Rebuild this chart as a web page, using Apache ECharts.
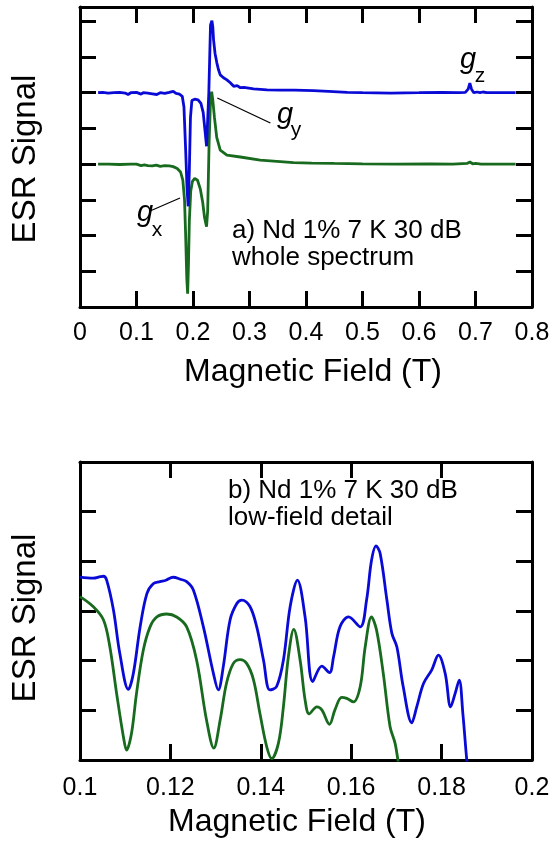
<!DOCTYPE html>
<html>
<head>
<meta charset="utf-8">
<script src="https://cdn.jsdelivr.net/npm/echarts@6/dist/echarts.min.js"></script>
<style>html,body{margin:0;padding:0;background:#fff;}#c{width:553px;height:843px;}</style>
</head>
<body>
<div id="c"></div>
<script>
// ---- Panel a) whole spectrum ----
const topBlueX = [0.032,0.040,0.050,0.060,0.070,0.080,0.085,0.090,0.100,0.108,0.112,0.120,0.128,0.136,0.142,0.150,0.158,0.165,0.170,0.176,0.181,0.184,0.187,0.1895,0.1915,0.1935,0.1955,0.198,0.203,0.209,0.214,0.218,0.2215,0.2240,0.2255,0.2280,0.2310,0.2335,0.2350,0.2364,0.2390,0.2423,0.2450,0.2482,0.2540,0.2600,0.2660,0.2720,0.2780,0.2840,0.2900,0.3073,0.3310,0.3550,0.3800,0.4130,0.4400,0.4730,0.5000,0.5500,0.6000,0.6400,0.6700,0.6820,0.6870,0.6900,0.6930,0.6970,0.7030,0.7080,0.7130,0.7200,0.7710];
const topBlueY = [6.00,6.01,5.99,6.00,6.01,5.99,5.95,6.00,6.01,5.96,6.00,5.99,5.97,5.95,6.00,5.98,6.01,6.04,5.98,5.96,5.90,5.60,4.40,3.30,2.82,3.80,5.30,5.78,5.82,5.80,5.70,5.45,4.90,4.50,4.48,6.00,7.90,8.02,7.85,7.48,7.10,6.83,6.65,6.50,6.42,6.36,6.28,6.18,6.20,6.14,6.15,6.11,6.08,6.07,6.07,6.06,6.04,6.01,6.00,5.99,6.00,6.01,6.00,6.01,6.10,6.27,6.10,6.00,6.02,6.00,6.02,6.00,6.00];
const topGreenX = [0.032,0.050,0.070,0.090,0.100,0.108,0.114,0.120,0.128,0.135,0.142,0.150,0.158,0.165,0.172,0.178,0.182,0.185,0.187,0.189,0.1905,0.1920,0.1935,0.1960,0.1990,0.2030,0.2080,0.2130,0.2170,0.2205,0.2240,0.2260,0.2285,0.2310,0.2330,0.2350,0.2380,0.2420,0.2482,0.2600,0.2837,0.3190,0.3780,0.4100,0.4500,0.5000,0.5600,0.6200,0.6600,0.6850,0.6900,0.6950,0.7000,0.7100,0.7710];
const topGreenY = [4.00,4.00,3.99,4.00,4.00,3.96,3.98,3.96,3.95,3.97,3.94,3.96,3.95,3.93,3.88,3.78,3.55,3.00,2.00,0.80,0.37,1.20,2.40,3.25,3.52,3.60,3.55,3.30,2.95,2.50,2.25,2.70,4.60,5.80,6.03,5.80,5.30,4.75,4.39,4.25,4.20,4.11,4.04,4.03,4.02,4.01,4.00,4.01,4.00,4.02,4.06,4.01,4.02,4.00,4.00];

// ---- Panel b) low-field detail ----
const lowBlueX = [0.1000,0.1029,0.1045,0.1052,0.1059,0.1074,0.1088,0.1107,0.1118,0.1133,0.1148,0.1162,0.1177,0.1190,0.1206,0.1222,0.1236,0.1251,0.1273,0.1295,0.1306,0.1317,0.1332,0.1347,0.1358,0.1376,0.1391,0.1406,0.1420,0.1435,0.1450,0.1465,0.1481,0.1498,0.1515,0.1535,0.1552,0.1561,0.1575,0.1594,0.1620,0.1634,0.1645,0.1655,0.1664,0.1679,0.1690,0.1701,0.1715,0.1734,0.1745,0.1760,0.1778,0.1793,0.1808,0.1820,0.1830,0.1839,0.1847,0.1856,0.1860];
const lowBlueY = [3.68,3.66,3.69,3.70,3.62,3.02,2.15,1.42,1.74,2.68,3.35,3.55,3.59,3.62,3.68,3.64,3.59,3.42,2.68,1.75,1.41,1.88,2.82,3.15,3.22,3.09,2.68,2.01,1.41,1.48,2.01,3.09,3.62,2.88,1.58,1.89,1.76,2.08,2.68,2.88,2.68,3.22,4.02,4.31,4.16,3.22,2.55,2.28,1.48,0.75,1.07,1.54,1.81,2.11,1.74,1.07,1.34,1.61,0.94,-0.03,-0.3];
const lowGreenX = [0.1000,0.1029,0.1052,0.1066,0.1081,0.1096,0.1103,0.1114,0.1125,0.1140,0.1155,0.1170,0.1192,0.1214,0.1236,0.1258,0.1280,0.1296,0.1310,0.1324,0.1339,0.1354,0.1369,0.1384,0.1398,0.1413,0.1424,0.1439,0.1450,0.1461,0.1473,0.1487,0.1498,0.1507,0.1524,0.1535,0.1552,0.1564,0.1579,0.1590,0.1605,0.1620,0.1631,0.1645,0.1656,0.1671,0.1686,0.1697,0.1704,0.1710];
const lowGreenY = [3.29,3.09,2.82,2.28,1.34,0.47,0.20,0.54,1.34,2.21,2.68,2.88,2.94,2.88,2.68,2.01,0.80,0.24,0.80,1.54,1.94,2.02,1.94,1.61,0.94,0.27,0.03,0.34,1.07,2.08,2.63,2.01,1.21,0.93,1.07,1.01,0.72,1.01,1.26,1.24,1.17,1.48,2.28,2.88,2.62,1.74,0.67,0.34,-0.03,-0.3];

const xTicksTop = {min:0, max:0.8, interval:0.1};
const xTicksLow = {min:0.1, max:0.2, interval:0.02};
const yTop = {min:0, max:8.4, interval:1};
const yLow = {min:0, max:6, interval:1};

const zip = (xs, ys) => xs.map((x, i) => [x, ys[i]]);
const FONT = 'Liberation Sans, Arial, sans-serif';
const BLUE = '#0a0ad6';
const GREEN = '#186a1e';

const tick = {show:true, inside:true, length:16, lineStyle:{color:'#000', width:3}};
const aline = {show:true, onZero:false, lineStyle:{color:'#000', width:3}};

function xAx(grid, pos, sc, labels, name, gap, margin, pad) {
  return {type:'value', gridIndex:grid, position:pos, min:sc.min, max:sc.max, interval:sc.interval,
    axisLine:aline, axisTick:tick, splitLine:{show:false},
    axisLabel:{show:labels, color:'#000', fontSize:25, fontFamily:FONT, margin:margin},
    name: name, nameLocation:'middle', nameGap:gap,
    nameTextStyle:{color:'#000', fontSize:32, fontFamily:FONT, padding:pad}};
}
function yAx(grid, pos, sc, name, pad) {
  return {type:'value', gridIndex:grid, position:pos, min:sc.min, max:sc.max, interval:sc.interval,
    axisLine:aline, axisTick:tick, splitLine:{show:false}, axisLabel:{show:false},
    name: name, nameLocation:'middle', nameGap:38,
    nameTextStyle:{color:'#000', fontSize:33, fontFamily:FONT, padding:pad}};
}

const leader = (a, b) => [{coord:a}, {coord:b}];

const chart = echarts.init(document.getElementById('c'));
chart.setOption({
  animation:false,
  backgroundColor:'#fff',
  grid:[
    {left:80, top:7, width:452, height:300},
    {left:80, top:462, width:452, height:298}
  ],
  xAxis:[
    xAx(0,'bottom',xTicksTop,true,'Magnetic Field (T)',49,14,[0,0,0,14]),
    xAx(0,'top',xTicksTop,false,'',0,14,0),
    xAx(1,'bottom',xTicksLow,true,'Magnetic Field (T)',46,16,[0,18,0,0]),
    xAx(1,'top',xTicksLow,false,'',0,16,0)
  ],
  yAxis:[
    yAx(0,'left',yTop,'ESR Signal',[0,4,0,0]),
    yAx(0,'right',yTop,'',0),
    yAx(1,'left',yLow,'ESR Signal',[0,14,0,0]),
    yAx(1,'right',yLow,'',0)
  ],
  series:[
    {type:'line', xAxisIndex:0, yAxisIndex:0, data:zip(topGreenX, topGreenY), showSymbol:false,
      lineStyle:{color:GREEN, width:2.8}, itemStyle:{color:GREEN}},
    {type:'line', xAxisIndex:0, yAxisIndex:0, data:zip(topBlueX, topBlueY), showSymbol:false,
      lineStyle:{color:BLUE, width:2.8}, itemStyle:{color:BLUE},
      markLine:{silent:true, symbol:'none', label:{show:false},
        lineStyle:{color:'#000', width:1.2, type:'solid'},
        data:[leader([0.243,5.85],[0.337,5.15]), leader([0.177,3.05],[0.124,2.69])]}},
    {type:'line', xAxisIndex:2, yAxisIndex:2, data:zip(lowGreenX, lowGreenY), showSymbol:false, smooth:0.35,
      lineStyle:{color:GREEN, width:2.8}, itemStyle:{color:GREEN}},
    {type:'line', xAxisIndex:2, yAxisIndex:2, data:zip(lowBlueX, lowBlueY), showSymbol:false, smooth:0.35,
      lineStyle:{color:BLUE, width:2.8}, itemStyle:{color:BLUE}}
  ],
  graphic:[
    {type:'text', x:232, y:231, style:{text:'a) Nd 1% 7 K 30 dB', font:'26px ' + FONT, fill:'#000', verticalAlign:'middle'}},
    {type:'text', x:232, y:258, style:{text:'whole spectrum', font:'26px ' + FONT, fill:'#000', verticalAlign:'middle'}},
    {type:'text', x:228, y:491, style:{text:'b) Nd 1% 7 K 30 dB', font:'26px ' + FONT, fill:'#000', verticalAlign:'middle'}},
    {type:'text', x:228, y:518, style:{text:'low-field detail', font:'26px ' + FONT, fill:'#000', verticalAlign:'middle'}},
    {type:'text', x:285, y:115, style:{text:'g', font:'italic 29px ' + FONT, fill:'#000', align:'center', verticalAlign:'middle'}},
    {type:'text', x:296, y:130, style:{text:'y', font:'21px ' + FONT, fill:'#000', align:'center', verticalAlign:'middle'}},
    {type:'text', x:468, y:60, style:{text:'g', font:'italic 29px ' + FONT, fill:'#000', align:'center', verticalAlign:'middle'}},
    {type:'text', x:480, y:76, style:{text:'z', font:'21px ' + FONT, fill:'#000', align:'center', verticalAlign:'middle'}},
    {type:'text', x:145, y:213, style:{text:'g', font:'italic 29px ' + FONT, fill:'#000', align:'center', verticalAlign:'middle'}},
    {type:'text', x:157, y:230, style:{text:'x', font:'21px ' + FONT, fill:'#000', align:'center', verticalAlign:'middle'}}
  ]
});
</script>
</body>
</html>
